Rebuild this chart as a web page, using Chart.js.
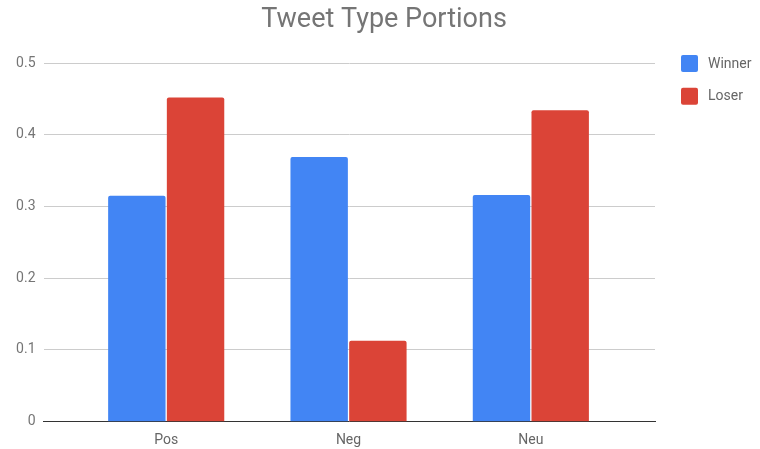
<!DOCTYPE html>
<html>
<head>
<meta charset="utf-8">
<script src="https://cdn.jsdelivr.net/npm/chart.js@4"></script>
<style>
  html, body { margin: 0; padding: 0; background: #fff; }
  #wrap { width: 760px; height: 449px; }
</style>
</head>
<body>
<div id="wrap"><canvas id="c" width="760" height="449"></canvas></div>
<script>
const title = 'Tweet Type Portions';
const categories = ['Pos', 'Neg', 'Neu'];
const seriesNames = ['Winner', 'Loser'];
const winner = [0.315, 0.369, 0.316];
const loser = [0.452, 0.113, 0.434];
const yTicks = [0, 0.1, 0.2, 0.3, 0.4, 0.5];
const colors = ['#4285F4', '#DB4437'];

const FONT = 'Roboto, "Noto Sans", sans-serif';

const sideLegend = {
  id: 'sideLegend',
  afterDraw(chart) {
    const ctx = chart.ctx;
    const area = chart.chartArea;
    ctx.save();
    chart.data.datasets.forEach((ds, i) => {
      const bx = area.right + 26;
      const by = area.top - 8 + i * 32.7;
      ctx.fillStyle = ds.backgroundColor;
      ctx.beginPath();
      if (ctx.roundRect) ctx.roundRect(bx, by, 17, 17, 2); else ctx.rect(bx, by, 17, 17);
      ctx.fill();
      ctx.fillStyle = '#666';
      ctx.font = '14px ' + FONT;
      ctx.textBaseline = 'middle';
      ctx.textAlign = 'left';
      ctx.fillText(ds.label, bx + 27, by + 9);
    });
    ctx.restore();
  }
};

const toPoints = arr => arr.map((v, i) => ({ x: i, y: v }));

new Chart(document.getElementById('c'), {
  type: 'bar',
  data: {
    datasets: [
      { label: seriesNames[0], data: toPoints(winner), backgroundColor: colors[0], borderRadius: 2, borderSkipped: 'bottom' },
      { label: seriesNames[1], data: toPoints(loser), backgroundColor: colors[1], borderRadius: 2, borderSkipped: 'bottom' }
    ]
  },
  options: {
    responsive: false,
    animation: false,
    devicePixelRatio: 1,
    categoryPercentage: 0.644,
    barPercentage: 0.978,
    layout: { padding: { left: 8, right: 0, top: 0, bottom: 0 } },
    plugins: {
      legend: { display: false },
      tooltip: { enabled: false },
      title: {
        display: true,
        text: title,
        color: '#757575',
        font: { family: FONT, size: 27, weight: 'normal' },
        padding: { top: 4, bottom: 26.6 }
      }
    },
    scales: {
      x: {
        type: 'linear',
        min: -0.673,
        max: 2.681,
        offset: false,
        grid: { display: false, drawTicks: false },
        border: { display: true, color: '#333', width: 1 },
        afterBuildTicks: axis => { axis.ticks = categories.map((c, i) => ({ value: i })); },
        afterFit: axis => { axis.height = 27.3; },
        ticks: {
          padding: 10,
          color: '#666',
          font: { family: FONT, size: 14 },
          maxRotation: 0,
          callback: v => categories[v] !== undefined ? categories[v] : ''
        }
      },
      y: {
        min: 0,
        max: 0.5,
        grid: { color: '#cccccc', drawTicks: false },
        border: { display: false },
        afterBuildTicks: axis => { axis.ticks = yTicks.map(v => ({ value: v })); },
        afterFit: axis => { axis.width = 35.5; },
        ticks: {
          padding: 8,
          color: '#757575',
          font: { family: FONT, size: 14 },
          callback: v => String(Math.round(v * 10) / 10)
        }
      },
      legendSpace: {
        type: 'linear',
        position: 'right',
        min: 0,
        max: 1,
        grid: { display: false, drawTicks: false },
        border: { display: false },
        ticks: { display: false },
        afterFit: axis => { axis.width = 105; }
      }
    }
  },
  plugins: [sideLegend]
});
</script>
</body>
</html>
